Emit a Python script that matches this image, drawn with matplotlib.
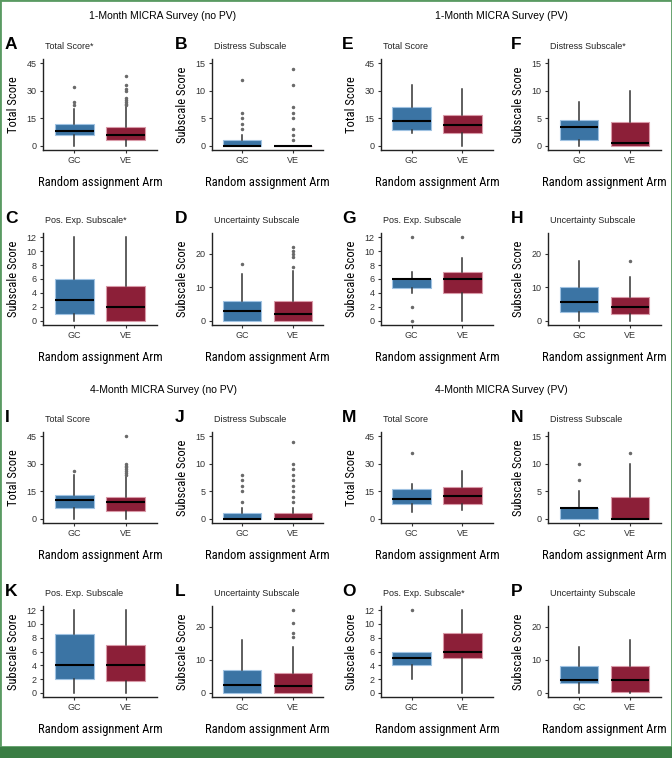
import matplotlib
matplotlib.use("Agg")
import matplotlib.pyplot as plt
from matplotlib.patches import Rectangle
from matplotlib import font_manager as fm
from matplotlib.font_manager import FontProperties

W, H = 672, 758
fig = plt.figure(figsize=(W / 100, H / 100), dpi=100)
fig.patch.set_facecolor("white")

REG = ["Liberation Sans", "DejaVu Sans"]

# find a condensed / narrow regular font if one is installed
cond_path = None
pref = ["Liberation Sans Narrow", "Roboto Condensed", "Open Sans Condensed",
        "Noto Sans Condensed", "DejaVu Sans Condensed"]
cands = []
for f in fm.fontManager.ttflist:
    nm = f.name
    fn = f.fname.lower()
    is_cond = ("narrow" in nm.lower() or "condensed" in nm.lower()
               or "condensed" in fn or "narrow" in fn
               or f.stretch in ("condensed", "semi-condensed"))
    if is_cond and f.weight in (400, "normal", "regular") and f.style == "normal":
        if "mono" in fn or "serif" in fn and "sans" not in fn:
            continue
        if "bold" in fn or "italic" in fn or "oblique" in fn:
            continue
        cands.append(f)
for p in pref:
    for f in cands:
        base = f.fname.lower().replace("-", "").replace("_", "").replace(" ", "")
        if p.lower().replace(" ", "") in base or f.name == p:
            cond_path = f.fname
            break
    if cond_path:
        break
if cond_path is None and cands:
    cond_path = cands[0].fname

def label_fp(size):
    if cond_path:
        return FontProperties(fname=cond_path, size=size)
    return FontProperties(family=REG, size=size)

# choose the label size so "Random assignment Arm" is ~124 px wide
probe = fig.text(0, 0, "Random assignment Arm", fontproperties=label_fp(10))
fig.canvas.draw()
wpx = probe.get_window_extent().width
probe.remove()
LAB_SIZE = 10 * 124 / wpx

arms = ["GC", "VE"]
colors = {"GC": "#3b74a4", "VE": "#8c1f38"}
edges = {"GC": "#9fc2e2", "VE": "#d99aa8"}

# stats: (whislo, q1, med, q3, whishi, fliers)
panels = {
    "A": ("Total Score*", "Total Score", 45, [0, 15, 30, 45],
          {"GC": (0, 6, 8, 12, 20, [22, 24, 32]),
           "VE": (0, 3, 6, 10.5, 21, [22, 23, 24, 25, 26, 30, 31, 33, 38])}),
    "B": ("Distress Subscale", "Subscale Score", 15, [0, 5, 10, 15],
          {"GC": (0, 0, 0, 1, 2, [3, 4, 5, 6, 12]),
           "VE": (0, 0, 0, 0, 0, [1, 2, 3, 5, 6, 7, 11, 14])}),
    "C": ("Pos. Exp. Subscale*", "Subscale Score", 12, [0, 2, 4, 6, 8, 10, 12],
          {"GC": (0, 1, 3, 6, 12, []),
           "VE": (0, 0, 2, 5, 12, [])}),
    "D": ("Uncertainty Subscale", "Subscale Score", 25, [0, 10, 20],
          {"GC": (0, 0, 3, 6, 14, [17]),
           "VE": (0, 0, 2, 6, 15, [16, 19, 20, 21, 22])}),
    "E": ("Total Score", "Total Score", 45, [0, 15, 30, 45],
          {"GC": (7, 8.5, 13.5, 21, 33, []),
           "VE": (0, 7, 11.5, 17, 31, [])}),
    "F": ("Distress Subscale*", "Subscale Score", 15, [0, 5, 10, 15],
          {"GC": (0, 1, 3.5, 4.75, 8, []),
           "VE": (0, 0, 0.5, 4.25, 10, [])}),
    "G": ("Pos. Exp. Subscale", "Subscale Score", 12, [0, 2, 4, 6, 8, 10, 12],
          {"GC": (4, 4.75, 6, 6, 7, [0, 2, 12]),
           "VE": (0, 4, 6, 7, 9, [12])}),
    "H": ("Uncertainty Subscale", "Subscale Score", 25, [0, 10, 20],
          {"GC": (0, 2.5, 5.5, 10, 18, []),
           "VE": (0, 2, 4, 7, 13, [18])}),
    "I": ("Total Score", "Total Score", 45, [0, 15, 30, 45],
          {"GC": (0, 6, 10, 13, 24, [26]),
           "VE": (0, 4.5, 9, 12, 23, [24, 25, 26, 27, 28, 29, 30, 45])}),
    "J": ("Distress Subscale", "Subscale Score", 15, [0, 5, 10, 15],
          {"GC": (0, 0, 0, 1, 2, [3, 5, 6, 7, 8]),
           "VE": (0, 0, 0, 1, 2, [3, 4, 5, 6, 7, 8, 9, 10, 14])}),
    "K": ("Pos. Exp. Subscale", "Subscale Score", 12, [0, 2, 4, 6, 8, 10, 12],
          {"GC": (0, 2, 4, 8.5, 12, []),
           "VE": (0, 1.75, 4, 7, 12, [])}),
    "L": ("Uncertainty Subscale", "Subscale Score", 25, [0, 10, 20],
          {"GC": (0, 0, 2.5, 7, 16, []),
           "VE": (0, 0, 2, 6, 14, [17, 18, 21, 25])}),
    "M": ("Total Score", "Total Score", 45, [0, 15, 30, 45],
          {"GC": (4, 8, 11, 16, 19, [36]),
           "VE": (5, 8, 12.5, 17.5, 26, [])}),
    "N": ("Distress Subscale", "Subscale Score", 15, [0, 5, 10, 15],
          {"GC": (0, 0, 2, 2, 5, [7, 10]),
           "VE": (0, 0, 0, 4, 10, [12])}),
    "O": ("Pos. Exp. Subscale*", "Subscale Score", 12, [0, 2, 4, 6, 8, 10, 12],
          {"GC": (2, 4, 5, 6, 6, [12]),
           "VE": (0, 5, 6, 8.75, 12, [])}),
    "P": ("Uncertainty Subscale", "Subscale Score", 25, [0, 10, 20],
          {"GC": (0, 3, 4, 8, 14, []),
           "VE": (0, 0.25, 4, 8, 16, [])}),
}

section_titles = ["1-Month MICRA Survey (no PV)", "1-Month MICRA Survey (PV)",
                  "4-Month MICRA Survey (no PV)", "4-Month MICRA Survey (PV)"]

# layout in pixels
cols = [(43, 157), (212, 323), (381, 493), (548, 661)]
rows = [(59, 150), (233, 325), (432, 523), (606, 697)]
grid = [["A", "B", "E", "F"],
        ["C", "D", "G", "H"],
        ["I", "J", "M", "N"],
        ["K", "L", "O", "P"]]
letter_x = [5, 175, 342, 511]

def fx(x):
    return x / W

def fy(y):
    return 1 - y / H

for r, (yt, yb) in enumerate(rows):
    for c, (xl, xr) in enumerate(cols):
        key = grid[r][c]
        sub, ylab, top, ticks, data = panels[key]
        ax = fig.add_axes([fx(xl), fy(yb), (xr - xl) / W, (yb - yt) / H])
        stats = []
        for a in arms:
            lo, q1, med, q3, hi, fl = data[a]
            stats.append(dict(whislo=lo, q1=q1, med=med, q3=q3, whishi=hi,
                              fliers=fl, label=a))
        bp = ax.bxp(stats, positions=[1, 2], widths=0.75, patch_artist=True,
                    showcaps=False,
                    whiskerprops=dict(color="#333333", lw=1.1),
                    medianprops=dict(color="black", lw=1.5),
                    flierprops=dict(marker="o", markersize=1.5,
                                    markerfacecolor="#6a6a6a",
                                    markeredgecolor="#6a6a6a", ls="none"))
        for patch, a in zip(bp["boxes"], arms):
            patch.set_facecolor(colors[a])
            patch.set_edgecolor(edges[a])
            patch.set_linewidth(0.8)
            patch.set_zorder(2)
        for m in bp["medians"]:
            m.set_zorder(3)
        ax.set_xlim(0.4, 2.6)
        ax.set_ylim(-0.05 * top, top * 1.05)
        ax.set_yticks(ticks)
        ax.set_xticks([1, 2])
        ax.set_xticklabels(arms)
        for s in ["top", "right"]:
            ax.spines[s].set_visible(False)
        for s in ["left", "bottom"]:
            ax.spines[s].set_color("#222222")
            ax.spines[s].set_linewidth(1.0)
        ax.tick_params(axis="both", length=2.5, width=0.8, color="#333333",
                       labelsize=6.5, labelcolor="#333333", pad=2)
        for lab in ax.get_xticklabels() + ax.get_yticklabels():
            lab.set_family(REG)
        ax.set_ylabel(ylab, fontproperties=label_fp(LAB_SIZE), labelpad=5)
        ax.set_xlabel("Random assignment Arm", fontproperties=label_fp(LAB_SIZE),
                      labelpad=8)
        # letter and subtitle
        fig.text(fx(letter_x[c]), fy(yt - 10), key, fontsize=12.5,
                 fontweight="bold", family=REG, va="baseline", ha="left")
        fig.text(fx(xl + 2), fy(yt - 10), sub, fontsize=6.5, family=REG,
                 va="baseline", ha="left", color="#222222")

# section titles
for (tx, ty), t in zip([(163, 16), (501, 16), (163, 390), (501, 390)],
                       section_titles):
    fig.text(fx(tx), fy(ty), t, fontsize=7.5, family=REG,
             ha="center", va="center")

# green frame
green = "#3a7d44"
fig.add_artist(Rectangle((0, fy(747)), 1, fy(0) - fy(747), fill=False,
                         edgecolor="#5a9a62", lw=2, transform=fig.transFigure))
fig.add_artist(Rectangle((0, 0), 1, 1 - 747 / H, facecolor=green,
                         edgecolor="none", transform=fig.transFigure))

fig.savefig("out.png", dpi=100, facecolor="white")
